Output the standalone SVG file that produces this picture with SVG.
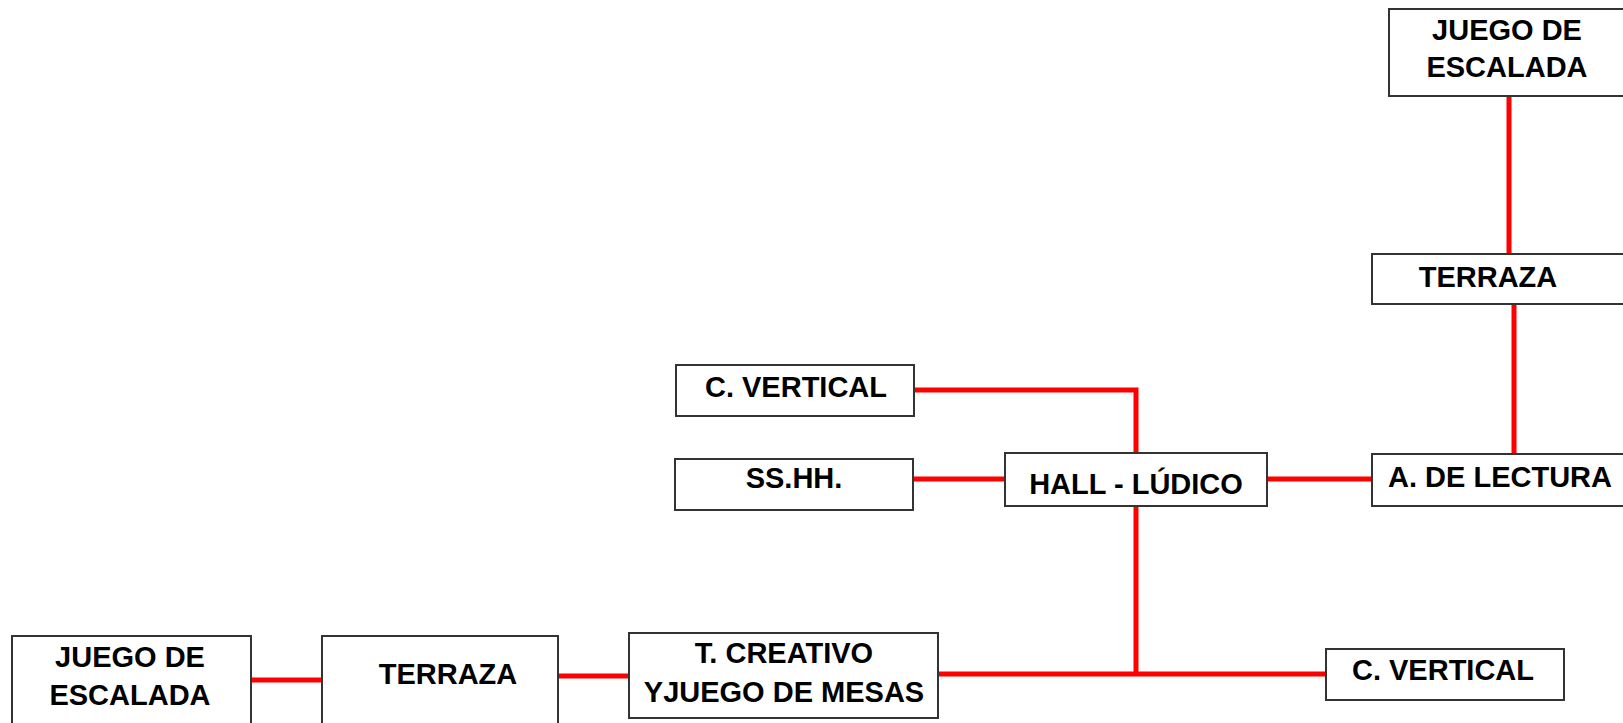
<svg xmlns="http://www.w3.org/2000/svg" width="1623" height="723" viewBox="0 0 1623 723">
<style>
.box{fill:#fff;stroke:#333;stroke-width:2}
.t{font-family:"Liberation Sans",Arial,sans-serif;font-weight:bold;font-size:29px;fill:#000;text-anchor:middle}
.c{fill:none;stroke:#ff0000;stroke-width:5}
</style>
<rect width="1623" height="723" fill="#fff"/>
<g id="connectors">
<line class="c" x1="1509" y1="96" x2="1509" y2="254"/>
<line class="c" x1="1514" y1="304" x2="1514" y2="454"/>
<line class="c" x1="1267" y1="479" x2="1372" y2="479"/>
<line class="c" x1="913" y1="479" x2="1005" y2="479"/>
<polyline class="c" points="914,390 1136,390 1136,453"/>
<line class="c" x1="1136" y1="506" x2="1136" y2="674"/>
<line class="c" x1="937" y1="674" x2="1326" y2="674"/>
<line class="c" x1="558" y1="676" x2="629" y2="676"/>
<line class="c" x1="251" y1="680" x2="322" y2="680"/>
</g>
<g id="juego-top">
<rect class="box" x="1389" y="9" width="250" height="87"/>
<text class="t" x="1507" y="40">JUEGO DE</text>
<text class="t" x="1507" y="77">ESCALADA</text>
</g>
<g id="terraza-top">
<rect class="box" x="1372" y="254" width="260" height="50"/>
<text class="t" x="1488" y="287">TERRAZA</text>
</g>
<g id="lectura">
<rect class="box" x="1372" y="454" width="260" height="52"/>
<text class="t" x="1500" y="487">A. DE LECTURA</text>
</g>
<g id="hall">
<rect class="box" x="1005" y="453" width="262" height="53"/>
<text class="t" x="1136" y="494">HALL - LÚDICO</text>
</g>
<g id="cvertical-top">
<rect class="box" x="676" y="365" width="238" height="51"/>
<text class="t" x="796" y="397">C. VERTICAL</text>
</g>
<g id="sshh">
<rect class="box" x="675" y="459" width="238" height="51"/>
<text class="t" x="794" y="488">SS.HH.</text>
</g>
<g id="cvertical-bottom">
<rect class="box" x="1326" y="649" width="238" height="51"/>
<text class="t" x="1443" y="680">C. VERTICAL</text>
</g>
<g id="creativo">
<rect class="box" x="629" y="633" width="309" height="85"/>
<text class="t" x="784" y="663">T. CREATIVO</text>
<text class="t" x="784" y="702">YJUEGO DE MESAS</text>
</g>
<g id="terraza-bottom">
<rect class="box" x="322" y="636" width="236" height="100"/>
<text class="t" x="448" y="684">TERRAZA</text>
</g>
<g id="juego-bottom">
<rect class="box" x="12" y="636" width="239" height="100"/>
<text class="t" x="130" y="667">JUEGO DE</text>
<text class="t" x="130" y="705">ESCALADA</text>
</g>
</svg>
